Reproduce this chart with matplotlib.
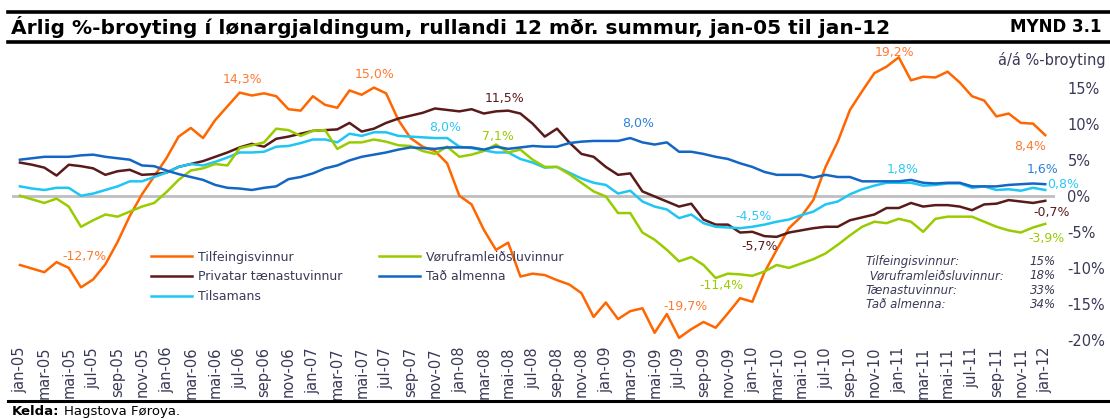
import matplotlib
matplotlib.use("Agg")
import matplotlib.pyplot as plt
from matplotlib.lines import Line2D

plt.rcParams['font.family'] = ['DejaVu Sans']

months = ["jan", "feb", "mar", "apr", "mai", "jun", "jul", "aug", "sep", "okt", "nov", "des"]
dates = [f"{months[m]}-{y:02d}" for y in range(5, 13) for m in range(12)][:85]

tilfeingis = [-9.6, -10.1, -10.6, -9.2, -10.0, -12.7, -11.6, -9.5, -6.4, -2.8, 0.2, 2.7,
              5.2, 8.2, 9.4, 8.0, 10.5, 12.4, 14.3, 13.9, 14.2, 13.8, 12.0, 11.8,
              13.8, 12.6, 12.2, 14.6, 14.0, 15.0, 14.2, 10.5, 8.0, 6.8, 6.2, 4.5,
              0.0, -1.2, -4.7, -7.5, -6.5, -11.2, -10.8, -11.0, -11.7, -12.3, -13.5, -16.8,
              -14.8, -17.1, -16.0, -15.6, -19.0, -16.4, -19.7, -18.5, -17.5, -18.3, -16.3, -14.2,
              -14.7, -10.6, -7.5, -4.5, -2.9, -0.6, 4.0, 7.5, 11.9, 14.5, 17.0, 17.9,
              19.2, 16.0, 16.5, 16.4, 17.2, 15.7, 13.8, 13.2, 11.0, 11.4, 10.1, 10.0,
              8.4]
voruframl = [0.0, -0.5, -1.0, -0.4, -1.5, -4.3, -3.4, -2.6, -2.9, -2.2, -1.5, -1.0,
             0.5, 2.2, 3.5, 3.8, 4.4, 4.2, 6.6, 7.0, 7.4, 9.3, 9.1, 8.3,
             9.0, 9.1, 6.5, 7.4, 7.4, 7.8, 7.5, 7.0, 6.9, 6.2, 5.8, 6.8,
             5.4, 5.7, 6.2, 7.1, 6.0, 6.4, 5.0, 4.0, 4.0, 3.0, 1.8, 0.6,
             -0.1, -2.4, -2.4, -5.1, -6.1, -7.5, -9.1, -8.5, -9.6, -11.4, -10.8, -10.9,
             -11.1, -10.5, -9.6, -10.0, -9.4, -8.8, -8.0, -6.8, -5.5, -4.3, -3.6, -3.8,
             -3.2, -3.6, -5.0, -3.2, -2.9, -2.9, -2.9, -3.6, -4.3, -4.8, -5.1, -4.4,
             -3.9]
privatar = [4.6, 4.3, 3.9, 2.8, 4.3, 4.1, 3.8, 2.9, 3.4, 3.6, 2.9, 3.0,
            3.2, 4.0, 4.4, 4.8, 5.4, 6.0, 6.7, 7.2, 6.8, 7.9, 8.2, 8.6,
            9.0, 9.1, 9.2, 10.1, 8.9, 9.3, 10.1, 10.7, 11.1, 11.5, 12.1, 11.9,
            11.7, 12.0, 11.4, 11.7, 11.8, 11.4, 10.0, 8.2, 9.3, 7.4, 5.8, 5.4,
            4.0, 2.9, 3.1, 0.6, -0.1, -0.8, -1.5, -1.1, -3.3, -4.0, -4.0, -5.1,
            -5.0, -5.6, -5.7, -5.1, -4.8, -4.5, -4.3, -4.3, -3.4, -3.0, -2.6, -1.7,
            -1.7, -1.0, -1.5, -1.3, -1.3, -1.5, -2.0, -1.2, -1.1, -0.6, -0.8, -1.0,
            -0.7]
almenna = [5.0, 5.2, 5.4, 5.4, 5.4, 5.6, 5.7, 5.4, 5.2, 5.0, 4.2, 4.1,
           3.5, 3.0, 2.6, 2.2, 1.5, 1.1, 1.0, 0.8, 1.1, 1.3, 2.3, 2.6,
           3.1, 3.8, 4.2, 4.9, 5.4, 5.7, 6.0, 6.4, 6.7, 6.6, 6.5, 6.7,
           6.7, 6.7, 6.4, 6.8, 6.5, 6.7, 6.9, 6.8, 6.8, 7.3, 7.5, 7.6,
           7.6, 7.6, 8.0, 7.4, 7.1, 7.4, 6.1, 6.1, 5.8, 5.4, 5.1, 4.5,
           4.0, 3.3, 2.9, 2.9, 2.9, 2.5, 2.9, 2.6, 2.6, 2.0, 2.0, 2.0,
           2.0, 2.2, 1.8, 1.7, 1.8, 1.8, 1.3, 1.3, 1.3, 1.5, 1.6, 1.7,
           1.6]
tilsamans = [1.3, 1.0, 0.8, 1.1, 1.1, 0.0, 0.3, 0.8, 1.3, 2.0, 2.0, 2.6,
             3.2, 4.0, 4.4, 4.2, 4.7, 5.3, 6.0, 6.0, 6.1, 6.8, 6.9, 7.3,
             7.8, 7.8, 7.4, 8.6, 8.3, 8.8, 8.8, 8.3, 8.2, 8.1, 8.0, 8.0,
             6.8, 6.6, 6.3, 6.0, 6.0, 5.1, 4.6, 3.9, 4.0, 3.2, 2.4, 1.8,
             1.5, 0.3, 0.7, -0.8, -1.5, -1.9, -3.1, -2.6, -3.8, -4.3, -4.4, -4.5,
             -4.3, -4.0, -3.6, -3.3, -2.7, -2.2, -1.2, -0.8, 0.2, 0.9, 1.4, 1.8,
             1.8, 1.8, 1.4, 1.5, 1.7, 1.7, 1.1, 1.3, 0.8, 0.9, 0.7, 1.1,
             0.8]

weights_names = ["Tilfeingisvinnur:", " Vøruframleiðsluvinnur:", "Tænastuvinnur:", "Tað almenna:"]
weights_vals = ["15%", "18%", "33%", "34%"]

C_OR = '#FF6600'
C_GR = '#99CC00'
C_BR = '#5A1A1A'
C_BL = '#1466C4'
C_LB = '#1FC6F4'
TXT = '#3A3A58'

W, H = 1110, 419
fig = plt.figure(figsize=(W / 100, H / 100), dpi=100)
ax = fig.add_axes([12 / W, 1 - 340 / H, (1055 - 12) / W, (340 - 51.5) / H])

x = list(range(len(dates)))
ax.axhline(0, color='#BEBEBE', lw=2, zorder=1)
series = [
    ("Tilfeingisvinnur", tilfeingis, C_OR),
    ("Privatar tænastuvinnur", privatar, C_BR),
    ("Tilsamans", tilsamans, C_LB),
    ("Vøruframleiðsluvinnur", voruframl, C_GR),
    ("Tað almenna", almenna, C_BL),
]
for name, vals, col in series:
    ax.plot(x, vals, color=col, lw=1.8, label=name, zorder=3, solid_joinstyle='round')

ax.set_xlim(-0.65, 84.8)
ax.set_ylim(-20, 20)
ax.set_yticks([-20, -15, -10, -5, 0, 5, 10, 15])
ax.set_yticklabels([f"{v}%" for v in [-20, -15, -10, -5, 0, 5, 10, 15]])
ax.yaxis.tick_right()
ax.tick_params(axis='y', length=0, pad=9, labelsize=10.5, labelcolor=TXT)
ax.set_xticks(x[::2])
ax.set_xticklabels(dates[::2], rotation=90, ha='center', va='top')
ax.tick_params(axis='x', length=0, pad=5, labelsize=10.5, labelcolor=TXT)
for s in ax.spines.values():
    s.set_visible(False)

leg = ax.legend(loc='upper left', bbox_to_anchor=(0.133, 0.31), ncol=2, frameon=False,
                fontsize=9, handlelength=3.3, handletextpad=0.5, columnspacing=2.9,
                labelspacing=0.55, borderpad=0, borderaxespad=0)
for t in leg.get_texts():
    t.set_color(TXT)

def lab(text, vals, i, dx, dy, col, ha='center'):
    ax.annotate(text, xy=(i, vals[i]), xytext=(dx * 0.72, dy * 0.72), textcoords='offset points',
                ha=ha, va='center', fontsize=9, color=col, zorder=5)

lab("-12,7%", tilfeingis, 5, 4, 31, '#FF7A30')
lab("14,3%", tilfeingis, 18, 3, 13, '#FF7A30')
lab("15,0%", tilfeingis, 29, 1, 13, '#FF7A30')
lab("11,5%", privatar, 40, -4, 12, C_BR)
lab("8,0%", tilsamans, 35, -2, 11, '#2CC8F8')
lab("7,1%", voruframl, 39, 2, 8, '#99CC00')
lab("8,0%", almenna, 50, 8, 15, '#2E7FD6')
lab("-4,5%", tilsamans, 59, 13, 12, '#2CC8F8')
lab("-5,7%", privatar, 62, -17, -10, C_BR)
lab("-11,4%", voruframl, 57, 6, -8, '#99CC00')
lab("-19,7%", tilfeingis, 54, 6, 31, '#FF7A30')
lab("19,2%", tilfeingis, 72, -4, 5, '#FF7A30')
lab("1,8%", tilsamans, 72, 4, 13, '#2CC8F8')
lab("8,4%", tilfeingis, 84, -15, -11, '#FF7A30')
lab("1,6%", almenna, 84, -3, 15, '#2E7FD6')
lab("0,8%", tilsamans, 84, 2, 5, '#2CC8F8', ha='left')
lab("-0,7%", privatar, 84, 6, -12, C_BR)
lab("-3,9%", voruframl, 84, 1, -15, '#99CC00')

# weights box
for k, (nm, vv) in enumerate(zip(weights_names, weights_vals)):
    yy = 1 - (261 + k * 14.6) / H
    fig.text(866 / W, yy, nm, fontsize=8.5, style='italic', color=TXT, ha='left', va='center')
    fig.text(1056 / W, yy, vv, fontsize=8.5, style='italic', color=TXT, ha='right', va='center')

fig.text(1106 / W, 1 - 60 / H, "á/á %-broyting", fontsize=10.5, color=TXT, ha='right', va='center')

# title block
fig.add_artist(Line2D([8 / W, 1], [1 - 12 / H, 1 - 12 / H], color='black', lw=2.6))
fig.add_artist(Line2D([8 / W, 1], [1 - 42 / H, 1 - 42 / H], color='black', lw=2.6))
fig.text(11 / W, 1 - 27.5 / H, "Árlig %-broyting í lønargjaldingum, rullandi 12 mðr. summur, jan-05 til jan-12",
         fontsize=14.5, fontweight='bold', ha='left', va='center', color='black')
fig.text(1101 / W, 1 - 27.5 / H, "MYND 3.1", fontsize=12, fontweight='bold', ha='right', va='center',
         color='black')

# footer
fig.add_artist(Line2D([8 / W, 1], [1 - 401 / H, 1 - 401 / H], color='black', lw=2.2))
fig.text(12 / W, 1 - 411 / H, "Kelda:", fontsize=9.5, fontweight='bold', ha='left', va='center')
fig.text(64 / W, 1 - 411 / H, "Hagstova Føroya.", fontsize=9.5, ha='left', va='center')

fig.savefig("out.png", dpi=100, facecolor='white')
